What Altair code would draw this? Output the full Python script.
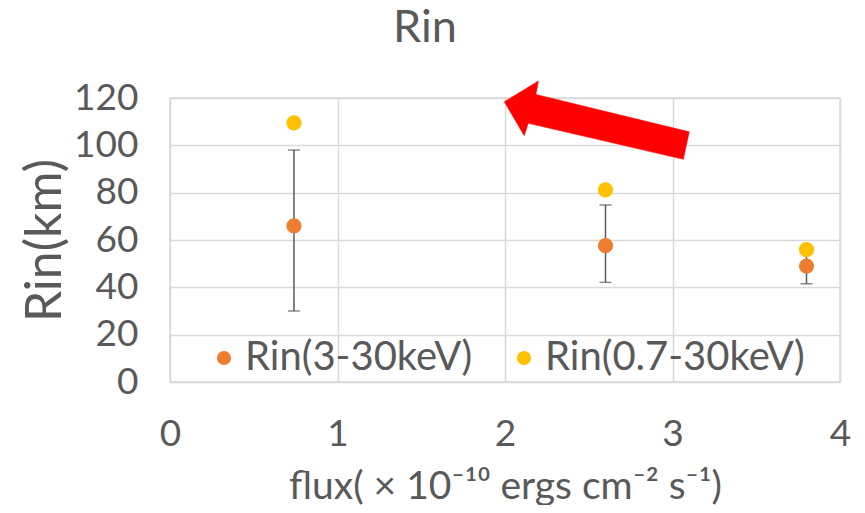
import altair as alt
import pandas as pd

# ---- data ----
flux = [0.74, 2.60, 3.80]
rin_3_30 = [66, 57.6, 49]
err_low = [30, 42.1, 41.5]
err_high = [98, 74.8, 56]
rin_07_30 = [109.5, 81.2, 55.9]

series_names = ["Rin(3-30keV)", "Rin(0.7-30keV)"]
series_colors = ["#ED7D31", "#FFC000"]

# annotation arrow outline (data units)
arrow_x = [1.996, 2.199, 2.185, 3.100, 3.065, 2.139, 2.115, 1.996]
arrow_y = [118.4, 127.2, 121.5, 105.7, 94.1, 109.3, 104.1, 118.4]

FONT = "Lato, Open Sans, sans-serif"
TXT = "#595959"

pts = pd.DataFrame({
    "flux": flux * 2,
    "rin": rin_3_30 + rin_07_30,
    "series": [series_names[0]] * len(flux) + [series_names[1]] * len(flux),
})
err = pd.DataFrame({"flux": flux, "lo": err_low, "hi": err_high})
arrow = pd.DataFrame({"x": arrow_x, "y": arrow_y, "o": list(range(len(arrow_x)))})

xs = alt.Scale(domain=[0, 4], nice=False)
ys = alt.Scale(domain=[0, 120], nice=False)

xaxis = alt.Axis(values=[0, 1, 2, 3, 4], format="d", title="flux( × 10⁻¹⁰  ergs cm⁻² s⁻¹)",
                 grid=True, domain=False, ticks=False, labelPadding=34, labelFlush=False,
                 titleX=335, titleY=104, titleAlign="center", titleBaseline="middle")
yaxis = alt.Axis(values=[0, 20, 40, 60, 80, 100, 120], title="Rin(km)",
                 grid=True, domain=False, ticks=False, labelPadding=32, labelFlush=False,
                 titleX=-125, titleY=142, titleAlign="center", titleBaseline="middle", titleAngle=-90)

bars = alt.Chart(err).mark_rule(color="#595959", strokeWidth=1.5).encode(
    x=alt.X("flux:Q", scale=xs, axis=xaxis),
    y=alt.Y("lo:Q", scale=ys, axis=yaxis),
    y2="hi:Q",
)
cap_lo = alt.Chart(err).mark_tick(color="#595959", orient="horizontal", size=12, thickness=1.5).encode(
    x=alt.X("flux:Q", scale=xs), y=alt.Y("lo:Q", scale=ys))
cap_hi = alt.Chart(err).mark_tick(color="#595959", orient="horizontal", size=12, thickness=1.5).encode(
    x=alt.X("flux:Q", scale=xs), y=alt.Y("hi:Q", scale=ys))

dots = alt.Chart(pts).mark_point(filled=True, opacity=1, size=230, shape="circle").encode(
    x=alt.X("flux:Q", scale=xs),
    y=alt.Y("rin:Q", scale=ys),
    color=alt.Color("series:N", scale=alt.Scale(domain=series_names, range=series_colors),
                    sort=series_names,
                    legend=alt.Legend(orient="none", direction="horizontal", title=None,
                                      legendX=34, legendY=240, symbolSize=200,
                                      labelFontSize=40, labelColor=TXT, labelFont=FONT,
                                      labelOffset=1, columnPadding=31, labelLimit=400,
                                      symbolType="circle")),
)

arr = alt.Chart(arrow).mark_line(fill="#FF0000", stroke="#FF0000", strokeWidth=0.5, clip=False).encode(
    x=alt.X("x:Q", scale=xs), y=alt.Y("y:Q", scale=ys), order="o:Q")

chart = alt.layer(bars, cap_lo, cap_hi, dots, arr).properties(
    width=670, height=284,
    autosize=alt.AutoSizeParams(type="none"),
    padding={"left": 162, "top": 90, "right": 17, "bottom": 123},
    title=alt.TitleParams("Rin", fontSize=45, font=FONT, color=TXT, fontWeight="normal",
                          anchor="middle", dx=-80, offset=28),
).configure_view(stroke="#D9D9D9", strokeWidth=1.5).configure_axis(
    gridColor="#D9D9D9", gridWidth=1.5,
    labelFont=FONT, labelFontSize=37, labelColor=TXT,
    titleFont=FONT, titleColor=TXT, titleFontWeight="normal",
).configure_axisX(titleFontSize=39).configure_axisY(titleFontSize=50)

chart.save("out.html", embed_options={"renderer": "svg", "actions": False})
